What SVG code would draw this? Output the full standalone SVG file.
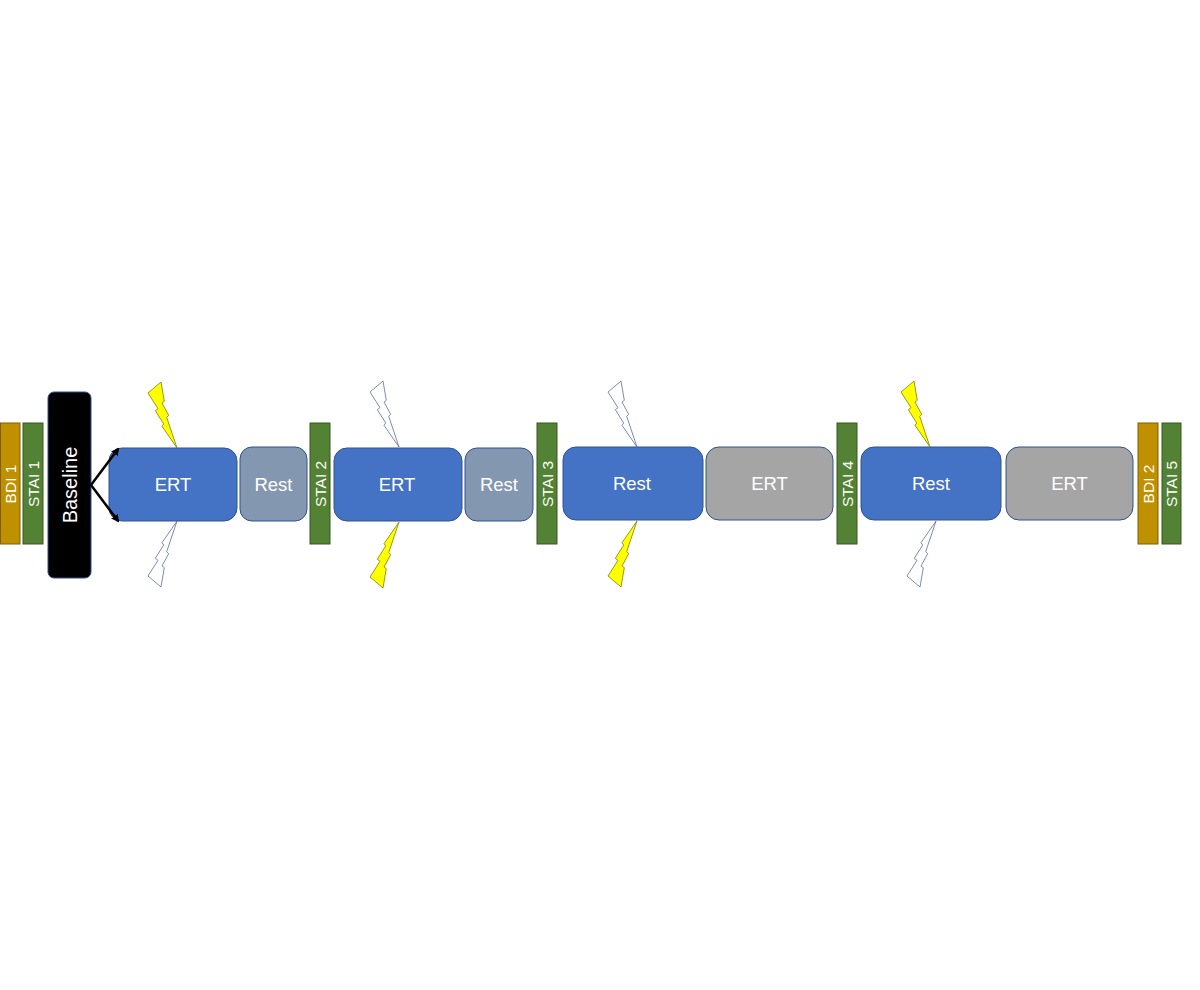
<svg xmlns="http://www.w3.org/2000/svg" width="1200" height="990" viewBox="0 0 1200 990">
<style>
.bdi{fill:#BF9000;stroke:#7F6000;stroke-width:1}
.stai{fill:#548235;stroke:#385723;stroke-width:1}
.blue{fill:#4472C4;stroke:#2F528F;stroke-width:1}
.rest{fill:#8497B0;stroke:#2F528F;stroke-width:1}
.gray{fill:#A5A5A5;stroke:#2F528F;stroke-width:1}
.base{fill:#000;stroke:#2F528F;stroke-width:1}
.t{font-family:"Liberation Sans",Arial,sans-serif;fill:#fff;text-anchor:middle}
.bt{font-size:15.5px}
.nt{font-size:18.5px}
.yb{fill:#FFFF00;stroke:#7F7F00;stroke-width:0.8}
.wb{fill:#fff;stroke:#5B6F9E;stroke-width:0.8}
.conn{stroke:#000;stroke-width:2.5;fill:none}
</style>
<defs>
<path id="bolt" d="M-16,-66 L-12.7,-46.7 L-15,-45 L-8.3,-32.7 L-10.3,-30.7 L0,0 L-15,-21.7 L-13.3,-24 L-21.7,-37.3 L-19,-39.3 L-29,-55 Z"/>
<marker id="ah" markerWidth="8" markerHeight="8" refX="6" refY="4" orient="auto" markerUnits="userSpaceOnUse">
<path d="M0,0 L8,4 L0,8 Z" fill="#000"/>
</marker>
</defs>
<rect width="1200" height="990" fill="#fff"/>

<g id="bdi1"><rect class="bdi" x="0.5" y="423" width="19.5" height="121"/><text class="t bt" transform="translate(15.5,484) rotate(-90)">BDI 1</text></g>
<g id="stai1"><rect class="stai" x="23" y="423" width="20" height="121"/><text class="t bt" transform="translate(38.5,484) rotate(-90)">STAI 1</text></g>
<g id="baseline"><rect class="base" x="48" y="392" width="43" height="186" rx="6"/><text class="t" style="font-size:20px" transform="translate(76.5,485) rotate(-90)">Baseline</text></g>

<g id="ert1"><rect class="blue" x="109" y="448" width="128" height="73" rx="13"/><text class="t nt" x="173" y="491">ERT</text></g>
<g id="rest1"><rect class="rest" x="240" y="447" width="67" height="74" rx="12"/><text class="t nt" x="273.5" y="491">Rest</text></g>
<g id="stai2"><rect class="stai" x="310" y="423" width="20" height="121"/><text class="t bt" transform="translate(325.5,484) rotate(-90)">STAI 2</text></g>
<g id="ert2"><rect class="blue" x="334" y="448" width="128" height="73" rx="13"/><text class="t nt" x="397" y="491">ERT</text></g>
<g id="rest2"><rect class="rest" x="465" y="448" width="68" height="73" rx="12"/><text class="t nt" x="499" y="491">Rest</text></g>
<g id="stai3"><rect class="stai" x="537" y="423" width="20" height="121"/><text class="t bt" transform="translate(552.5,484) rotate(-90)">STAI 3</text></g>
<g id="rest3"><rect class="blue" x="563" y="447" width="140" height="73" rx="13"/><text class="t nt" x="632" y="490">Rest</text></g>
<g id="ert3"><rect class="gray" x="706" y="447" width="127" height="73" rx="13"/><text class="t nt" x="769.5" y="490">ERT</text></g>
<g id="stai4"><rect class="stai" x="837" y="423" width="20" height="121"/><text class="t bt" transform="translate(852.5,484) rotate(-90)">STAI 4</text></g>
<g id="rest4"><rect class="blue" x="861" y="447" width="140" height="73" rx="13"/><text class="t nt" x="931" y="490">Rest</text></g>
<g id="ert4"><rect class="gray" x="1006" y="447" width="127" height="73" rx="13"/><text class="t nt" x="1069.5" y="490">ERT</text></g>
<g id="bdi2"><rect class="bdi" x="1138" y="423" width="20" height="121"/><text class="t bt" transform="translate(1153.5,484) rotate(-90)">BDI 2</text></g>
<g id="stai5"><rect class="stai" x="1162" y="423" width="19" height="121"/><text class="t bt" transform="translate(1177,484) rotate(-90)">STAI 5</text></g>

<g id="bolts">
<use href="#bolt" class="yb" transform="translate(177,448)"/>
<use href="#bolt" class="wb" transform="translate(177,521) scale(1,-1)"/>
<use href="#bolt" class="wb" transform="translate(399,447)"/>
<use href="#bolt" class="yb" transform="translate(399,522) scale(1,-1)"/>
<use href="#bolt" class="wb" transform="translate(637,447)"/>
<use href="#bolt" class="yb" transform="translate(637,521) scale(1,-1)"/>
<use href="#bolt" class="yb" transform="translate(930,447)"/>
<use href="#bolt" class="wb" transform="translate(936,521) scale(1,-1)"/>
</g>

<g id="connectors">
<line class="conn" x1="91" y1="485" x2="118" y2="449" marker-end="url(#ah)"/>
<line class="conn" x1="91" y1="485" x2="118" y2="521" marker-end="url(#ah)"/>
</g>
</svg>
